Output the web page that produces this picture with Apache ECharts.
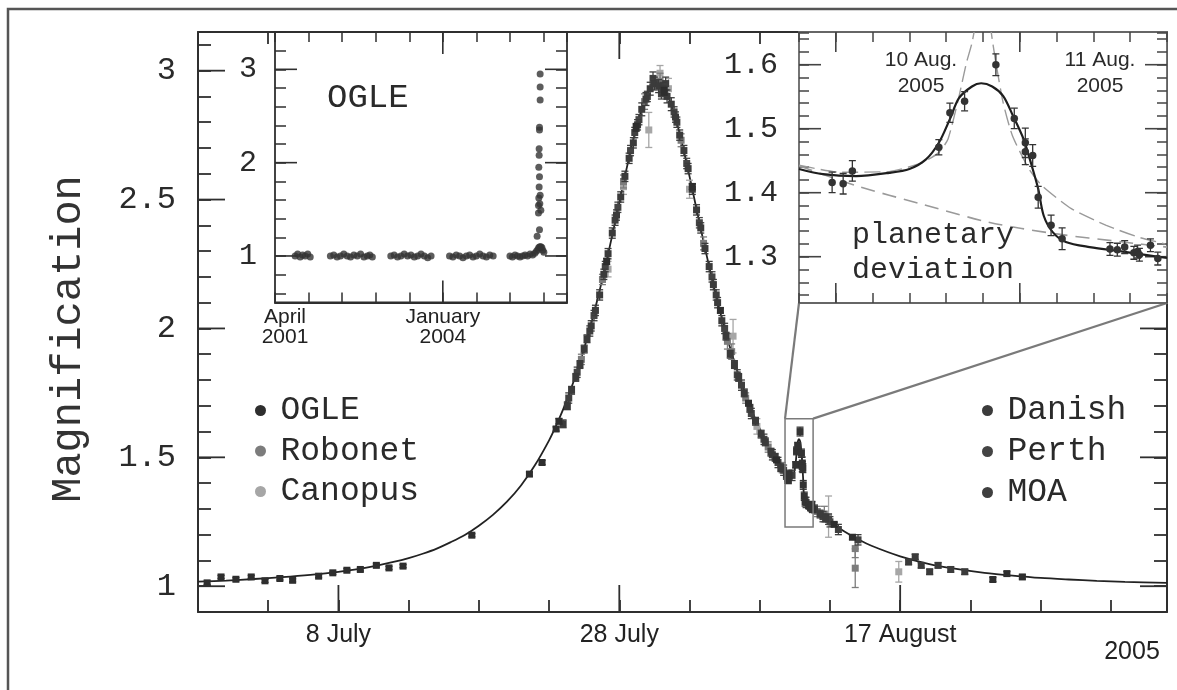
<!DOCTYPE html>
<html><head><meta charset="utf-8">
<script src="https://cdn.jsdelivr.net/npm/echarts@6/dist/echarts.min.js"></script>
<style>html,body{margin:0;padding:0;background:#fff}#c{width:1177px;height:690px}</style>
</head><body><div id="c"></div>
<script>
// ---------------- DATA ----------------
// main axis: days counted so that 8 = 8 July 2005, 28 = 28 July, 48 = 17 August
const mainTickValues = [8, 28, 48];
const mainTickLabels = ['8 July', '28 July', '17 August'];
const magTickValues = [1, 1.5, 2, 2.5, 3];
const ogleInsetTickValues = [0, 1000];
const ogleInsetTickLabels = [['April', '2001'], ['January', '2004']];
const ogleInsetMagTicks = [1, 2, 3];
const planetMagTicks = [1.3, 1.4, 1.5, 1.6];
const planetDayTicks = [40, 41];

// [t, magnification, error]
const ogle = [[-1.35,1.013,0.006],[-0.36,1.036,0.006],[0.70,1.027,0.006],[1.79,1.036,0.006],[2.77,1.021,0.006],[3.83,1.030,0.006],[4.74,1.023,0.006],[6.59,1.039,0.006],[7.6,1.052,0.006],[8.6,1.062,0.006],[9.56,1.065,0.006],[10.7,1.081,0.006],[11.6,1.071,0.006],[12.6,1.078,0.006],[17.5,1.198,0.006],[21.6,1.435,0.008],[22.5,1.48,0.008],[23.5,1.61,0.008],[23.7,1.64,0.01],[27.1,2.26,0.012],[29.2,2.78,0.015],[31.2,2.92,0.015],[33.2,2.55,0.012],[35.2,2.07,0.01],[37.2,1.71,0.01],[39.2,1.49,0.008],[43.3,1.24,0.008],[44.6,1.19,0.008],[54.6,1.026,0.008],[55.6,1.049,0.008],[56.7,1.036,0.008]];
const danish = [[24.0,1.63,0.015],[24.3,1.70,0.015],[24.6,1.76,0.015],[24.9,1.81,0.015],[25.2,1.86,0.015],[25.5,1.92,0.015],[25.7,1.96,0.015],[26.0,2.01,0.02],[26.3,2.07,0.02],[26.6,2.13,0.02],[26.9,2.21,0.02],[27.2,2.29,0.02],[27.5,2.37,0.02],[27.8,2.44,0.02],[28.1,2.51,0.02],[28.4,2.59,0.02],[28.7,2.66,0.02],[29.0,2.72,0.02],[29.3,2.79,0.02],[29.6,2.85,0.025],[29.9,2.89,0.025],[30.2,2.93,0.025],[30.5,2.95,0.025],[30.8,2.94,0.025],[31.1,2.93,0.025],[31.4,2.90,0.025],[31.7,2.87,0.025],[32.0,2.82,0.02],[32.3,2.75,0.02],[32.6,2.69,0.02],[32.9,2.62,0.02],[33.2,2.54,0.02],[33.5,2.46,0.02],[33.8,2.39,0.02],[34.1,2.31,0.02],[34.4,2.24,0.02],[34.7,2.17,0.02],[35.0,2.10,0.02],[35.3,2.03,0.02],[35.6,1.97,0.015],[35.9,1.90,0.015],[36.2,1.86,0.015],[36.5,1.81,0.015],[36.9,1.75,0.015],[37.3,1.69,0.015],[37.7,1.64,0.015],[38.1,1.59,0.015],[38.4,1.56,0.015],[38.8,1.52,0.015],[39.1,1.50,0.015],[39.5,1.46,0.015],[39.9,1.43,0.015],[41.9,1.30,0.015],[42.3,1.28,0.015],[42.7,1.265,0.015],[48.6,1.094,0.01],[49.07,1.114,0.01],[49.5,1.081,0.01],[50.1,1.056,0.01],[50.7,1.081,0.01],[51.6,1.065,0.01],[52.6,1.056,0.01]];
const perth = [[25.0,1.83,0.02],[26.2,2.05,0.02],[27.0,2.24,0.02],[27.9,2.47,0.02],[28.8,2.69,0.02],[29.4,2.81,0.02],[30.0,2.90,0.02],[31.0,2.91,0.02],[31.9,2.84,0.02],[32.8,2.64,0.02],[33.7,2.41,0.02],[34.6,2.20,0.02],[35.5,2.00,0.02],[36.4,1.82,0.02],[37.4,1.67,0.02],[38.3,1.57,0.02],[39.3,1.48,0.02],[39.7,1.45,0.02],[41.3,1.325,0.02],[42.5,1.27,0.02],[43.0,1.25,0.02]];
const moa = [[24.4,1.73,0.02],[25.9,1.99,0.02],[27.7,2.42,0.02],[29.1,2.76,0.02],[30.4,2.97,0.025],[31.3,2.95,0.025],[32.1,2.80,0.02],[34.9,2.13,0.02],[36.7,1.78,0.02],[38.9,1.51,0.02],[40.3,1.43,0.02],[42.9,1.26,0.02],[43.6,1.22,0.02],[45.0,1.18,0.02]];
const robonet = [[25.3,1.88,0.02],[26.8,2.19,0.02],[28.3,2.57,0.025],[29.8,2.88,0.03],[30.9,2.96,0.03],[32.4,2.73,0.025],[34.0,2.33,0.025],[35.7,1.95,0.03],[36.0,1.91,0.03],[37.0,1.73,0.02],[38.6,1.54,0.02],[39.6,1.46,0.02],[42.1,1.29,0.02],[42.6,1.28,0.03],[44.8,1.146,0.035],[44.8,1.07,0.075]];
const canopus = [[27.2,2.23,0.03],[28.3,2.55,0.03],[30.1,2.77,0.068],[30.9,2.99,0.03],[31.5,2.93,0.04],[33.0,2.54,0.035],[36.1,1.97,0.065],[37.8,1.62,0.03],[42.9,1.27,0.08],[47.9,1.056,0.04]];
// points of the planetary deviation (shown in the zoom inset and in the main panel)
const planetData = [[39.98,1.416,0.016],[40.04,1.414,0.016],[40.09,1.434,0.016],[40.56,1.471,0.012],[40.62,1.525,0.015],[40.70,1.543,0.015],[40.87,1.600,0.017],[40.97,1.516,0.016],[41.03,1.478,0.023],[41.03,1.464,0.02],[41.07,1.458,0.017],[41.10,1.393,0.017],[41.17,1.349,0.016],[41.23,1.328,0.017],[41.49,1.312,0.01],[41.53,1.311,0.01],[41.57,1.315,0.01],[41.62,1.306,0.01],[41.64,1.308,0.01],[41.65,1.303,0.01],[41.71,1.318,0.01],[41.75,1.297,0.01]];

// fitted curve (outside the deviation window)
const fitMain = [[-2,1.018],[0,1.022],[2,1.028],[4,1.035],[6,1.044],[8,1.056],[10,1.072],[12,1.095],[13,1.109],[14,1.126],[15,1.146],[16,1.171],[17,1.199],[18,1.235],[19,1.277],[20,1.328],[21,1.391],[22,1.470],[23,1.566],[23.5,1.623],[24,1.686],[24.5,1.757],[25,1.835],[25.5,1.923],[26,2.019],[26.5,2.125],[27,2.240],[27.5,2.362],[28,2.488],[28.5,2.615],[29,2.733],[29.5,2.834],[30,2.908],[30.4,2.940],[30.7,2.948],[31,2.940],[31.5,2.896],[32,2.816],[32.5,2.711],[33,2.590],[33.5,2.463],[34,2.337],[34.5,2.216],[35,2.103],[35.5,1.999],[36,1.905],[36.5,1.819],[37,1.742],[37.5,1.673],[38,1.611],[38.5,1.556],[39,1.506],[39.5,1.461],[42,1.292],[43,1.250],[44,1.213],[45,1.182],[46,1.156],[48,1.116],[50,1.087],[52,1.067],[54,1.052],[56,1.041],[58,1.032],[60,1.026],[62,1.021],[64,1.017],[67,1.013]];
// planetary model inside the deviation window
const fitPlanet = [[39.8,1.437],[39.93,1.429],[40.11,1.426],[40.29,1.431],[40.40,1.437],[40.49,1.452],[40.56,1.478],[40.62,1.515],[40.67,1.548],[40.74,1.566],[40.79,1.571],[40.85,1.566],[40.91,1.551],[40.96,1.522],[41.02,1.484],[41.06,1.447],[41.10,1.406],[41.13,1.364],[41.18,1.338],[41.25,1.323],[41.38,1.315],[41.56,1.308],[41.8,1.298]];
const fitSingleLens = [[39.8,1.442],[40.11,1.411],[40.47,1.382],[40.83,1.354],[41.19,1.336],[41.56,1.323],[41.8,1.315]];
const fitAlternative = [[39.8,1.443],[40.02,1.432],[40.29,1.433],[40.47,1.447],[40.56,1.463],[40.61,1.484],[40.67,1.551],[40.71,1.603],[40.74,1.634],[40.77,1.68],[40.80,1.72],[40.83,1.68],[40.85,1.64],[40.87,1.603],[40.91,1.54],[40.96,1.489],[41.05,1.437],[41.12,1.411],[41.28,1.375],[41.47,1.349],[41.64,1.331],[41.79,1.32]];

// OGLE long-term light curve: [days since April 2001, magnification]
const ogleLong = [[120,1.00],[135,1.02],[150,0.99],[165,1.01],[180,1.00],[195,1.02],[210,0.99],
[330,1.00],[350,1.01],[370,0.99],[390,1.00],[410,1.02],[430,1.00],[450,0.99],[470,1.01],[490,1.00],[510,1.02],[530,0.99],[550,1.00],[565,1.01],[580,0.99],
[690,1.00],[710,1.01],[730,0.99],[750,1.00],[770,1.02],[790,1.00],[810,1.01],[830,0.99],[850,1.00],[870,1.02],[890,1.00],[910,0.98],[930,1.00],
[1040,1.00],[1060,0.99],[1080,1.01],[1100,1.00],[1120,0.98],[1140,1.00],[1160,1.01],[1180,0.99],[1200,1.00],[1220,1.02],[1240,1.00],[1260,0.99],[1280,1.01],[1300,1.00],
[1400,1.00],[1415,0.99],[1430,1.01],[1445,1.00],[1460,0.99],[1475,1.00],[1490,1.01],[1505,1.00],[1520,1.02],[1535,1.01],[1548,1.03],
[1558,1.05],[1566,1.07],[1572,1.09],[1578,1.10],[1584,1.10],[1590,1.09],[1596,1.06],[1602,1.04],
[1562,1.21],[1576,1.28],[1570,1.46],[1584,1.49],[1570,1.54],[1578,1.56],[1572,1.62],[1580,1.65],[1574,1.74],[1576,1.85],[1572,1.95],[1574,2.08],[1574,2.15],[1576,2.35],[1576,2.38],[1580,2.67],[1580,2.81],[1580,2.95]];

const legendLeft = ['OGLE', 'Robonet', 'Canopus'];
const legendRight = ['Danish', 'Perth', 'MOA'];

// ---------------- AXIS RANGES ----------------
const MX = [-2, 67], MY = [0.9, 3.15];
const OX = [0, 1740], OY = [0.6, 3.4];
const PX = [39.8, 41.8], PY = [1.24, 1.65];
const boxY = [1.23, 1.65];

const C = {ogle:'#2e2e2e', danish:'#3b3b3b', perth:'#444444', moa:'#3f3f3f', robonet:'#7c7c7c', canopus:'#a6a6a6'};
const monoF = '"Liberation Mono", "DejaVu Sans Mono", monospace';
const sansF = '"Liberation Sans", Arial, sans-serif';

const near = (a, b) => Math.abs(a - b) < 1e-6;
const labelFrom = (vals, labels) => v => { for (let i = 0; i < vals.length; i++) if (near(v, vals[i])) return labels[i]; return ''; };

function errSeries(name, data, color, xi, yi, shape, size, z) {
  return {
    type: 'custom', name, data, xAxisIndex: xi, yAxisIndex: yi, z, clip: true, silent: true,
    itemStyle: { color }, dimensions: ['t', 'A', 'err'], encode: { x: 0, y: 1 },
    renderItem(params, api) {
      const x = api.value(0), y = api.value(1), e = api.value(2);
      const p = api.coord([x, y]), lo = api.coord([x, y - e]), hi = api.coord([x, y + e]);
      const cap = 3.5, s = size, st = { stroke: color, lineWidth: 1.3 };
      const ch = [
        { type: 'line', shape: { x1: p[0], y1: lo[1], x2: p[0], y2: hi[1] }, style: st },
        { type: 'line', shape: { x1: p[0] - cap, y1: lo[1], x2: p[0] + cap, y2: lo[1] }, style: st },
        { type: 'line', shape: { x1: p[0] - cap, y1: hi[1], x2: p[0] + cap, y2: hi[1] }, style: st }
      ];
      if (shape === 'rect') ch.push({ type: 'rect', shape: { x: p[0] - s / 2, y: p[1] - s / 2, width: s, height: s }, style: { fill: color } });
      else ch.push({ type: 'circle', shape: { cx: p[0], cy: p[1], r: s / 2 }, style: { fill: color } });
      return { type: 'group', children: ch };
    }
  };
}
function xMajor(xi, yi, vals, y0, y1, len, color, lw, z) {
  return { type: 'custom', xAxisIndex: xi, yAxisIndex: yi, z, silent: true, clip: false,
    data: vals.map(v => [v, y0]), encode: { x: 0, y: 1 },
    renderItem(params, api) {
      const v = api.value(0), b = api.coord([v, y0]), t = api.coord([v, y1]);
      const st = { stroke: color, lineWidth: lw };
      return { type: 'group', children: [
        { type: 'line', shape: { x1: b[0], y1: b[1], x2: b[0], y2: b[1] - len }, style: st },
        { type: 'line', shape: { x1: t[0], y1: t[1], x2: t[0], y2: t[1] + len }, style: st }] };
    } };
}
function yMajor(xi, yi, vals, x0, x1, len, color, lw, z) {
  return { type: 'custom', xAxisIndex: xi, yAxisIndex: yi, z, silent: true, clip: false,
    data: vals.map(v => [x0, v]), encode: { x: 0, y: 1 },
    renderItem(params, api) {
      const v = api.value(1), l = api.coord([x0, v]), r = api.coord([x1, v]);
      const st = { stroke: color, lineWidth: lw };
      return { type: 'group', children: [
        { type: 'line', shape: { x1: l[0], y1: l[1], x2: l[0] + len, y2: l[1] }, style: st },
        { type: 'line', shape: { x1: r[0], y1: r[1], x2: r[0] - len, y2: r[1] }, style: st }] };
    } };
}

const mainCurve = fitMain.concat(fitPlanet).sort((a, b) => a[0] - b[0]);

const dark = '#2f2f2f';
function valAxis(o) {
  const a = Object.assign({ type: 'value', splitLine: { show: false } }, o);
  a.axisLine = Object.assign({ onZero: false }, a.axisLine || {});
  return a;
}

const option = {
  animation: false,
  backgroundColor: '#ffffff',
  grid: [
    { left: 198, top: 32, width: 969, height: 580 },                         // 0 main
    { left: 275, top: 32, width: 292, height: 270.5, show: true, z: 10, backgroundColor: '#fff', borderColor: dark, borderWidth: 1.8 }, // 1 ogle box
    { left: 275, top: 32, width: 292, height: 261.3 },                         // 2 ogle data
    { left: 799, top: 32, width: 368, height: 271, show: true, z: 10, backgroundColor: '#fff', borderColor: '#666', borderWidth: 1.8 }, // 3 planet box
    { left: 799, top: 32.7, width: 368, height: 262.4 }                        // 4 planet data
  ],
  xAxis: [
    valAxis({ gridIndex: 0, position: 'bottom', min: MX[0], max: MX[1], interval: 5,
      axisLine: { lineStyle: { color: dark, width: 2 } }, axisTick: { inside: true, length: 12, lineStyle: { color: dark, width: 1.8 } },
      axisLabel: { margin: 11, fontFamily: sansF, fontSize: 25, color: '#222', formatter: labelFrom(mainTickValues, mainTickLabels) } }),
    valAxis({ gridIndex: 0, position: 'top', min: MX[0], max: MX[1], interval: 5,
      axisLine: { lineStyle: { color: dark, width: 2 } }, axisTick: { inside: true, length: 12, lineStyle: { color: dark, width: 1.8 } }, axisLabel: { show: false } }),
    valAxis({ gridIndex: 1, position: 'bottom', min: OX[0], max: OX[1], interval: 200, z: 12,
      axisLine: { lineStyle: { color: dark, width: 1.8 } }, axisTick: { inside: true, length: 10, lineStyle: { color: dark, width: 1.5 } },
      axisLabel: { margin: 5, fontFamily: sansF, fontSize: 21, lineHeight: 20, color: '#222',
        formatter: v => near(v, ogleInsetTickValues[0]) ? '{a|' + ogleInsetTickLabels[0][0] + '}\n{a|' + ogleInsetTickLabels[0][1] + '}' :
                        near(v, ogleInsetTickValues[1]) ? ogleInsetTickLabels[1].join('\n') : '',
        rich: { a: { fontFamily: sansF, fontSize: 21, lineHeight: 20, color: '#222', padding: [0, 0, 0, 20] } } } }),
    valAxis({ gridIndex: 1, position: 'top', min: OX[0], max: OX[1], interval: 200, z: 12,
      axisLine: { lineStyle: { color: dark, width: 1.8 } }, axisTick: { inside: true, length: 10, lineStyle: { color: dark, width: 1.5 } }, axisLabel: { show: false } }),
    valAxis({ gridIndex: 2, min: OX[0], max: OX[1], show: false }),
    valAxis({ gridIndex: 3, position: 'bottom', min: PX[0], max: PX[1], interval: 0.2, z: 12,
      axisLine: { lineStyle: { color: '#666', width: 1.8 } }, axisTick: { inside: true, length: 10, lineStyle: { color: '#444', width: 1.5 } }, axisLabel: { show: false } }),
    valAxis({ gridIndex: 3, position: 'top', min: PX[0], max: PX[1], interval: 0.2, z: 12,
      axisLine: { lineStyle: { color: '#666', width: 1.8 } }, axisTick: { inside: true, length: 10, lineStyle: { color: '#444', width: 1.5 } }, axisLabel: { show: false } }),
    valAxis({ gridIndex: 4, min: PX[0], max: PX[1], show: false })
  ],
  yAxis: [
    valAxis({ gridIndex: 0, position: 'left', min: MY[0], max: MY[1], interval: 0.1,
      axisLine: { lineStyle: { color: dark, width: 2 } }, axisTick: { inside: true, length: 13, lineStyle: { color: dark, width: 1.8 } },
      axisLabel: { margin: 22, fontFamily: monoF, fontSize: 32, color: '#2a2a2a', formatter: v => magTickValues.some(m => near(m, v)) ? String(+v.toFixed(1)) : '' } }),
    valAxis({ gridIndex: 0, position: 'right', min: MY[0], max: MY[1], interval: 0.1,
      axisLine: { lineStyle: { color: dark, width: 2 } }, axisTick: { inside: true, length: 13, lineStyle: { color: dark, width: 1.8 } }, axisLabel: { show: false } }),
    valAxis({ gridIndex: 1, min: 0, max: 1, show: false }),
    valAxis({ gridIndex: 2, position: 'left', min: OY[0], max: OY[1], interval: 0.2, z: 12,
      axisLine: { show: false }, axisTick: { inside: true, length: 11, lineStyle: { color: dark, width: 1.5 } },
      axisLabel: { margin: 18, fontFamily: monoF, fontSize: 30, color: '#2a2a2a', formatter: v => ogleInsetMagTicks.some(m => near(m, v)) ? String(Math.round(v)) : '' } }),
    valAxis({ gridIndex: 2, position: 'right', min: OY[0], max: OY[1], interval: 0.2, z: 12,
      axisLine: { show: false }, axisTick: { inside: true, length: 11, lineStyle: { color: dark, width: 1.5 } }, axisLabel: { show: false } }),
    valAxis({ gridIndex: 3, min: 0, max: 1, show: false }),
    valAxis({ gridIndex: 4, position: 'left', min: PY[0], max: PY[1], interval: 0.02, z: 12,
      axisLine: { show: false }, axisTick: { inside: true, length: 10, lineStyle: { color: '#444', width: 1.5 } },
      axisLabel: { margin: 21, fontFamily: monoF, fontSize: 30, color: '#2a2a2a', formatter: v => planetMagTicks.some(m => near(m, v)) ? v.toFixed(1) : '' } }),
    valAxis({ gridIndex: 4, position: 'right', min: PY[0], max: PY[1], interval: 0.02, z: 12,
      axisLine: { show: false }, axisTick: { inside: true, length: 10, lineStyle: { color: '#444', width: 1.5 } }, axisLabel: { show: false } })
  ],
  legend: [
    { data: legendLeft.map(n => ({ name: n, icon: 'circle' })), orient: 'vertical', left: 250, top: 389, itemWidth: 30, itemHeight: 11, itemGap: 7.5, selectedMode: false,
      textStyle: { fontFamily: monoF, fontSize: 33, lineHeight: 33, color: '#2a2a2a' } },
    { data: legendRight.map(n => ({ name: n, icon: 'circle' })), orient: 'vertical', left: 977, top: 389, itemWidth: 30, itemHeight: 11, itemGap: 8, selectedMode: false,
      textStyle: { fontFamily: monoF, fontSize: 33, lineHeight: 33, color: '#2a2a2a' } }
  ],
  series: [
    // main panel
    xMajor(0, 0, mainTickValues, MY[0], MY[1], 27, dark, 1.8, 3),
    yMajor(0, 0, magTickValues, MX[0], MX[1], 27, dark, 1.8, 3),
    { type: 'line', xAxisIndex: 0, yAxisIndex: 0, data: mainCurve, showSymbol: false, smooth: 0.3, silent: true, z: 4,
      lineStyle: { color: '#222', width: 1.8 } },
    errSeries('Canopus', canopus, C.canopus, 0, 0, 'rect', 7, 5),
    errSeries('Robonet', robonet, C.robonet, 0, 0, 'rect', 7, 5),
    errSeries('MOA', moa, C.moa, 0, 0, 'rect', 7, 6),
    errSeries('Perth', perth, C.perth, 0, 0, 'rect', 7, 6),
    errSeries('Danish', danish, C.danish, 0, 0, 'rect', 7, 6),
    errSeries('OGLE', ogle, C.ogle, 0, 0, 'rect', 7, 6),
    errSeries('', planetData, '#333', 0, 0, 'rect', 7, 6),
    // OGLE inset
    { type: 'scatter', xAxisIndex: 4, yAxisIndex: 3, data: ogleLong, symbol: 'circle', symbolSize: 7, silent: true, z: 13,
      itemStyle: { color: '#333' } },
    yMajor(4, 3, ogleInsetMagTicks, OX[0], OX[1], 22, dark, 1.6, 13),
    xMajor(2, 2, [ogleInsetTickValues[1]], 0, 1, 22, dark, 1.6, 13),
    // planetary deviation inset
    yMajor(7, 6, planetMagTicks, PX[0], PX[1], 22, '#444', 1.6, 13),
    xMajor(5, 5, planetDayTicks, 0, 1, 20, '#444', 1.6, 13),
    { type: 'line', xAxisIndex: 7, yAxisIndex: 6, data: fitSingleLens, showSymbol: false, smooth: 0.3, silent: true, z: 13,
      lineStyle: { color: '#9a9a9a', width: 1.6, type: [14, 8] } },
    { type: 'line', xAxisIndex: 7, yAxisIndex: 6, data: fitAlternative, showSymbol: false, smooth: 0.2, silent: true, z: 13,
      lineStyle: { color: '#9a9a9a', width: 1.4, type: [16, 6] } },
    { type: 'line', xAxisIndex: 7, yAxisIndex: 6, data: fitPlanet, showSymbol: false, smooth: 0.3, silent: true, z: 14,
      lineStyle: { color: '#1e1e1e', width: 2.2 } },
    errSeries('', planetData, '#333', 7, 6, 'circle', 7.5, 15)
  ]
};

const chart = echarts.init(document.getElementById('c'), null, { renderer: 'canvas' });
chart.setOption(option);

const tl = chart.convertToPixel({ xAxisIndex: 0, yAxisIndex: 0 }, [PX[0], boxY[1]]);
const br = chart.convertToPixel({ xAxisIndex: 0, yAxisIndex: 0 }, [PX[1], boxY[0]]);
const ibl = chart.convertToPixel({ xAxisIndex: 5, yAxisIndex: 5 }, [PX[0], 0]);
const ibr = chart.convertToPixel({ xAxisIndex: 5, yAxisIndex: 5 }, [PX[1], 0]);
const gray = '#7a7a7a';

chart.setOption({ graphic: { elements: [
  { type: 'rect', z: 1, silent: true, shape: { x: 8, y: 9, width: 1200, height: 700 }, style: { fill: 'none', stroke: '#555', lineWidth: 2.5 } },
  { type: 'rect', z: 9, silent: true, shape: { x: tl[0], y: tl[1], width: br[0] - tl[0], height: br[1] - tl[1] }, style: { fill: 'none', stroke: gray, lineWidth: 1.5 } },
  { type: 'line', z: 9, silent: true, shape: { x1: tl[0], y1: tl[1], x2: ibl[0], y2: ibl[1] }, style: { stroke: gray, lineWidth: 2.2 } },
  { type: 'line', z: 9, silent: true, shape: { x1: br[0], y1: tl[1], x2: ibr[0], y2: ibr[1] }, style: { stroke: gray, lineWidth: 2.2 } },
  { type: 'text', z: 20, silent: true, x: 69, y: 339, rotation: Math.PI / 2,
    style: { text: 'Magnification', font: '42px ' + monoF, fill: '#333', align: 'center', verticalAlign: 'middle', textAlign: 'center', textVerticalAlign: 'middle' } },
  { type: 'text', z: 20, silent: true, x: 1132, y: 652,
    style: { text: '2005', font: '25px ' + sansF, fill: '#222', align: 'center', verticalAlign: 'middle', textAlign: 'center', textVerticalAlign: 'middle' } },
  { type: 'text', z: 20, silent: true, x: 327, y: 98,
    style: { text: 'OGLE', font: '34px ' + monoF, fill: '#2a2a2a', align: 'left', verticalAlign: 'middle', textAlign: 'left', textVerticalAlign: 'middle' } },
  { type: 'text', z: 20, silent: true, x: 852, y: 235,
    style: { text: 'planetary', font: '30px ' + monoF, fill: '#2a2a2a', align: 'left', verticalAlign: 'middle', textAlign: 'left', textVerticalAlign: 'middle' } },
  { type: 'text', z: 20, silent: true, x: 852, y: 270,
    style: { text: 'deviation', font: '30px ' + monoF, fill: '#2a2a2a', align: 'left', verticalAlign: 'middle', textAlign: 'left', textVerticalAlign: 'middle' } },
  { type: 'text', z: 20, silent: true, x: 921, y: 73,
    style: { text: '10 Aug.\n2005', font: '21px ' + sansF, lineHeight: 26, fill: '#2a2a2a', align: 'center', verticalAlign: 'middle', textAlign: 'center', textVerticalAlign: 'middle' } },
  { type: 'text', z: 20, silent: true, x: 1100, y: 73,
    style: { text: '11 Aug.\n2005', font: '21px ' + sansF, lineHeight: 26, fill: '#2a2a2a', align: 'center', verticalAlign: 'middle', textAlign: 'center', textVerticalAlign: 'middle' } }
] } });
</script></body></html>
